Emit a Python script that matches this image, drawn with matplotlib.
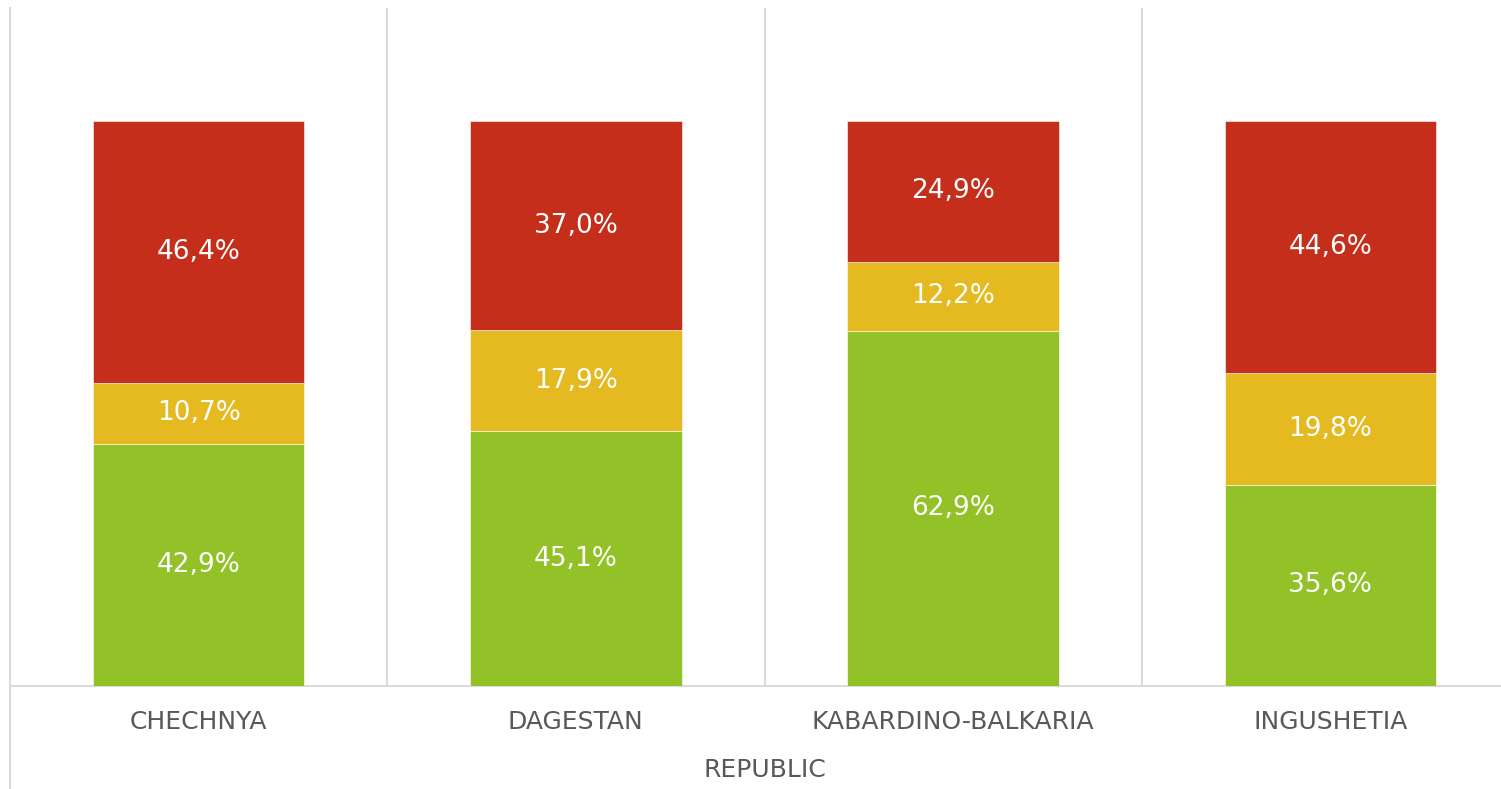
import matplotlib.pyplot as plt
import numpy as np

# Data (share of respondents, %)
republics = ['CHECHNYA', 'DAGESTAN', 'KABARDINO-BALKARIA', 'INGUSHETIA']
green_vals = [42.9, 45.1, 62.9, 35.6]
yellow_vals = [10.7, 17.9, 12.2, 19.8]
red_vals = [46.4, 37.0, 24.9, 44.6]

colors = {'green': '#92C227', 'yellow': '#E5B920', 'red': '#C42E1A'}
grid_col = '#D9D9D9'

fig = plt.figure(figsize=(15.01, 7.89), dpi=100)
# plot area runs slightly past the right edge of the picture
ax = fig.add_axes([10 / 1501, 1 - 686 / 789, 1509 / 1501, 678 / 789])

x = np.arange(len(republics))
w = 0.56
bottom = np.zeros(len(republics))
for key, vals in [('green', green_vals), ('yellow', yellow_vals), ('red', red_vals)]:
    vals = np.array(vals)
    ax.bar(x, vals, w, bottom=bottom, color=colors[key], edgecolor='white',
           linewidth=0.4, zorder=3)
    for xi, b, v in zip(x, bottom, vals):
        ax.text(xi, b + v / 2, f'{v:.1f}%'.replace('.', ','), ha='center', va='center',
                color='white', fontsize=19, zorder=4)
    bottom += vals

ax.set_xlim(-0.5, len(republics) - 0.5)
ax.set_ylim(0, 120)
ax.set_yticks([])

# category separators
ax.set_xticks(x)
ax.set_xticks(np.arange(-0.5, len(republics)), minor=True)
ax.grid(True, axis='x', which='minor', color=grid_col, linewidth=1.4, zorder=0)
ax.tick_params(axis='x', which='both', length=0, pad=17.5)
ax.set_xticklabels(republics, fontsize=18, color='#595959')
ax.set_xlabel('REPUBLIC', fontsize=18, color='#595959', labelpad=17)

for s in ['top', 'right', 'left']:
    ax.spines[s].set_visible(False)
ax.spines['bottom'].set_color(grid_col)
ax.spines['bottom'].set_linewidth(1.4)

# left border reaching down through the label area
ax.plot([0, 0], [1, -0.16], transform=ax.transAxes, color=grid_col,
        linewidth=1.4, clip_on=False, zorder=1)

fig.savefig('out.png', dpi=100)
